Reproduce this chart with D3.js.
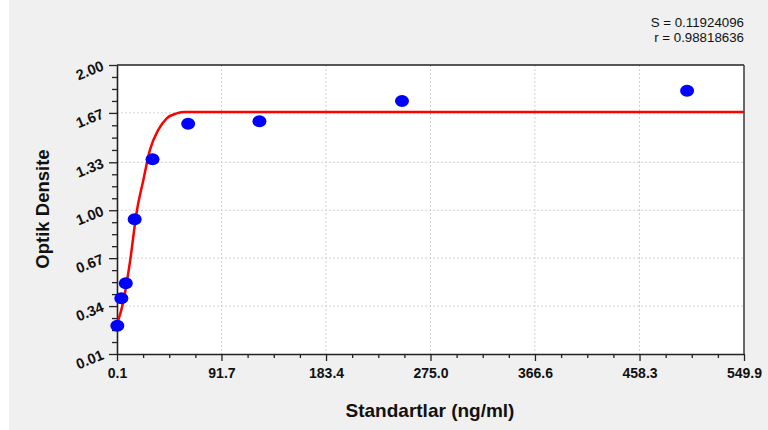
<!DOCTYPE html>
<html>
<head>
<meta charset="utf-8">
<script src="https://cdn.jsdelivr.net/npm/d3@7"></script>
<style>
  body { margin: 0; background: #f0f0f0; }
  svg { display: block; font-family: "Liberation Sans", Arial, sans-serif; }
</style>
</head>
<body>
<div class="canvas"></div>
<script>
// standards (ng/ml) and measured optical density
const standards = [0.4, 3.9, 7.8, 15.6, 31.25, 62.5, 125, 250, 500];
const density = [0.205, 0.394, 0.497, 0.938, 1.351, 1.596, 1.612, 1.752, 1.823];

// fitted curve
const curveX = [0.36, 5.6, 11.5, 17.4, 23.2, 29.0, 36.3, 43.7, 52.4, 59.7, 549.9];
const curveY = [0.221, 0.370, 0.646, 0.990, 1.208, 1.415, 1.553, 1.633, 1.667, 1.676, 1.676];

const xTicks = [0.1, 91.7, 183.4, 275.0, 366.6, 458.3, 549.9];
const yTicks = [0.01, 0.34, 0.67, 1.00, 1.33, 1.67, 2.00];

const statLines = ['S = 0.11924096', 'r = 0.98818636'];

const width = 768, height = 430;
const margin = { top: 65, right: 24, bottom: 76, left: 117 };
const graphWidth = width - margin.left - margin.right;
const graphHeight = height - margin.top - margin.bottom;

const svg = d3.select('.canvas')
  .append('svg')
  .attr('width', width)
  .attr('height', height);

svg.append('rect').attr('width', width).attr('height', height).attr('fill', '#f0f0f0');
svg.append('rect').attr('width', 9).attr('height', height).attr('fill', '#ffffff');

const graph = svg.append('g')
  .attr('transform', `translate(${margin.left}, ${margin.top})`);

const x = d3.scaleLinear().domain([0.1, 549.9]).range([0, graphWidth]);
const y = d3.scaleLinear().domain([0.01, 2.00]).range([graphHeight, 0]);

graph.append('rect')
  .attr('width', graphWidth)
  .attr('height', graphHeight)
  .attr('fill', '#fff');

// grid
graph.append('g').selectAll('line')
  .data(xTicks.slice(1, -1))
  .enter().append('line')
  .attr('x1', d => x(d)).attr('x2', d => x(d))
  .attr('y1', 0).attr('y2', graphHeight)
  .attr('stroke', '#cfcfcf').attr('stroke-dasharray', '2,2');

graph.append('g').selectAll('line')
  .data(yTicks.slice(1, -1))
  .enter().append('line')
  .attr('y1', d => y(d)).attr('y2', d => y(d))
  .attr('x1', 0).attr('x2', graphWidth)
  .attr('stroke', '#cfcfcf').attr('stroke-dasharray', '2,2');

// minor ticks (4 subdivisions between the labelled ones)
const xMinor = [], yMinor = [];
for (let i = 0; i < xTicks.length - 1; i++)
  for (let k = 1; k < 4; k++) xMinor.push(xTicks[i] + (xTicks[i + 1] - xTicks[i]) * k / 4);
for (let i = 0; i < yTicks.length - 1; i++)
  for (let k = 1; k < 4; k++) yMinor.push(yTicks[i] + (yTicks[i + 1] - yTicks[i]) * k / 4);

const xAxisGroup = graph.append('g').attr('transform', `translate(0, ${graphHeight})`);
const yAxisGroup = graph.append('g');

xAxisGroup.call(d3.axisBottom(x).tickValues(xMinor).tickSize(4).tickFormat(''));
xAxisGroup.call(g => g.selectAll('.domain').remove());
const xMajor = graph.append('g').attr('transform', `translate(0, ${graphHeight})`)
  .call(d3.axisBottom(x).tickValues(xTicks).tickSize(7).tickSizeOuter(0).tickPadding(7).tickFormat(d3.format('.1f')));

yAxisGroup.call(d3.axisLeft(y).tickValues(yMinor).tickSize(5).tickFormat(''));
yAxisGroup.call(g => g.selectAll('.domain').remove());
const yMajor = graph.append('g')
  .call(d3.axisLeft(y).tickValues(yTicks).tickSize(8).tickSizeOuter(0).tickPadding(6).tickFormat(d3.format('.2f')));

graph.selectAll('.tick line').attr('stroke', '#222').attr('stroke-width', 1.3);
graph.selectAll('.domain').attr('stroke', '#222').attr('stroke-width', 1.6);

xMajor.selectAll('text')
  .attr('font-size', 14).attr('font-weight', 'bold').attr('fill', '#111')
  .attr('font-family', '"Liberation Sans", Arial, sans-serif');

yMajor.selectAll('text')
  .attr('font-size', 14.5).attr('font-weight', 'bold').attr('fill', '#111')
  .attr('font-family', '"Liberation Sans", Arial, sans-serif')
  .attr('text-anchor', 'end')
  .attr('transform', 'rotate(-22, -14, 0)');

// top and right frame
graph.append('line').attr('x1', 0).attr('x2', graphWidth).attr('y1', 0).attr('y2', 0)
  .attr('stroke', '#222').attr('stroke-width', 1.3);
graph.append('line').attr('x1', graphWidth).attr('x2', graphWidth).attr('y1', 0).attr('y2', graphHeight)
  .attr('stroke', '#444').attr('stroke-width', 1.6);

// fitted curve
const line = d3.line()
  .x(d => x(d[0]))
  .y(d => y(d[1]))
  .curve(d3.curveMonotoneX);

graph.append('path')
  .datum(curveX.map((v, i) => [v, curveY[i]]))
  .attr('d', line)
  .attr('fill', 'none')
  .attr('stroke', '#ff0000')
  .attr('stroke-width', 2.5);

// points
graph.selectAll('ellipse')
  .data(standards.map((v, i) => [v, density[i]]))
  .enter().append('ellipse')
  .attr('cx', d => x(d[0]))
  .attr('cy', d => y(d[1]))
  .attr('rx', 7)
  .attr('ry', 6)
  .attr('fill', '#0000ff');

// titles
svg.append('text')
  .attr('x', 430)
  .attr('y', 417)
  .attr('text-anchor', 'middle')
  .attr('font-size', 19).attr('font-weight', 'bold').attr('fill', '#111')
  .text('Standartlar (ng/ml)');

svg.append('text')
  .attr('transform', 'translate(49, 209) rotate(-90)')
  .attr('text-anchor', 'middle')
  .attr('font-size', 18.5).attr('font-weight', 'bold').attr('fill', '#111')
  .text('Optik Densite');

svg.selectAll('.stat')
  .data(statLines)
  .enter().append('text')
  .attr('class', 'stat')
  .attr('x', 744)
  .attr('y', (d, i) => 27 + i * 15)
  .attr('text-anchor', 'end')
  .attr('font-size', 13.3).attr('fill', '#111')
  .text(d => d);
</script>
</body>
</html>
